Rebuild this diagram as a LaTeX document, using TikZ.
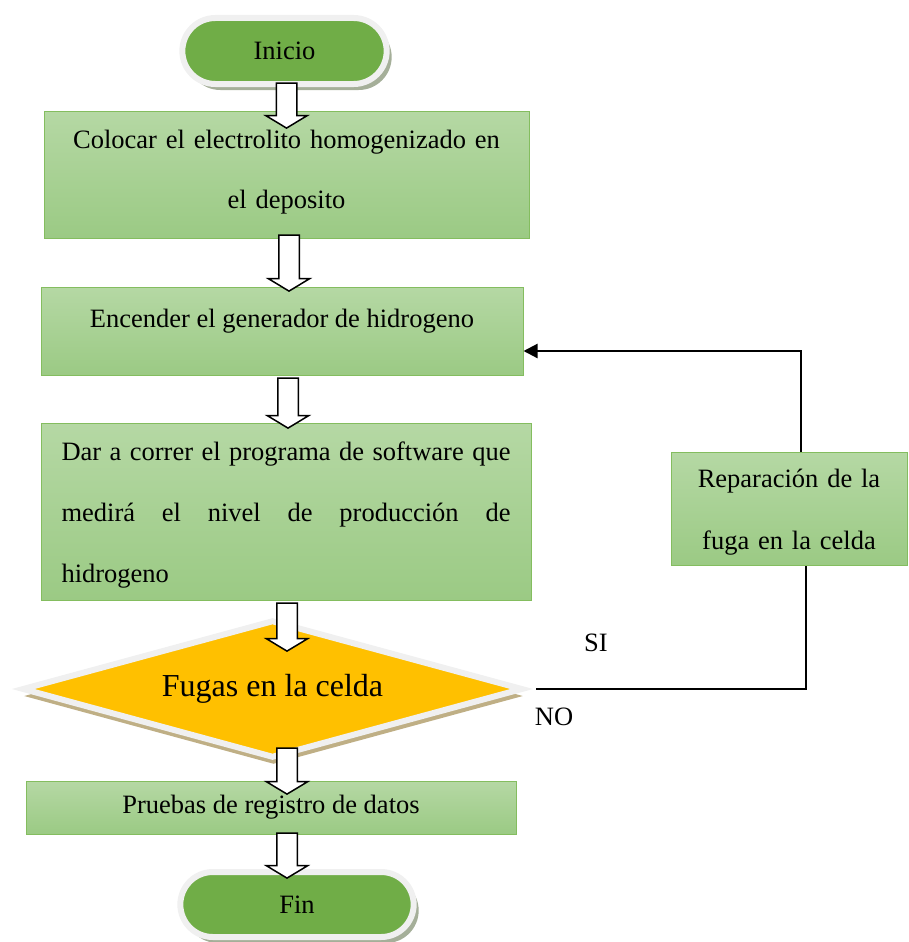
\documentclass[tikz,border=0pt]{standalone}
\usepackage{fontspec}
\setmainfont{Liberation Serif}
\usetikzlibrary{shapes,shadows,arrows.meta}
\definecolor{verdeT}{HTML}{70AD47}
\definecolor{grisB}{HTML}{F0F0F0}
\definecolor{sombraT}{HTML}{A5AF99}
\definecolor{naranja}{HTML}{FFC000}
\definecolor{sombraD}{HTML}{BFAF85}
\definecolor{cajaA}{HTML}{B5D8A4}
\definecolor{cajaB}{HTML}{9BCA84}
\definecolor{bordeC}{HTML}{84BD5F}
\tikzset{
  terminal/.style={rounded rectangle, draw=grisB, line width=6pt, fill=verdeT,
    drop shadow={shadow xshift=5pt, shadow yshift=-6pt, fill=sombraT, opacity=1},
    font=\fontsize{26.5}{32}\selectfont},
  caja/.style={rectangle, draw=bordeC, line width=1pt, top color=cajaA, bottom color=cajaB,
    inner sep=0pt, font=\fontsize{26.5}{60}\selectfont},
  decision/.style={diamond, aspect=3.63, draw=grisB, line width=6pt, fill=naranja, inner sep=0pt,
    drop shadow={shadow xshift=1pt, shadow yshift=-7pt, fill=sombraD, opacity=1},
    font=\fontsize{32}{38}\selectfont},
  flecha/.style={single arrow, draw=black, fill=white, line width=1.5pt, minimum width=40pt,
    single arrow head extend=10.5pt, single arrow tip angle=118, inner xsep=0pt, inner ysep=9.5pt,
    rotate=-90, minimum height=#1},
  linea/.style={draw=black, line width=2.2pt},
  etiqueta/.style={font=\fontsize{26.5}{32}\selectfont, inner sep=0pt}
}
\begin{document}
\begin{tikzpicture}[x=1pt,y=-1pt]
\useasboundingbox (0,0) rectangle (908,942);
\node[terminal, minimum width=211pt, minimum height=66pt] (inicio) at (284.5,51) {Inicio};
\node[caja, minimum width=485pt, minimum height=127pt, text width=485pt, align=center,
  text depth=71pt] (colocar) at (286.5,174.5)
  {Colocar el electrolito homogenizado en\\el deposito};
\node[caja, minimum width=482pt, minimum height=88pt, text depth=26pt] (encender) at (282,331)
  {Encender el generador de hidrogeno};
\node[caja, minimum width=490pt, minimum height=177pt, text width=449pt, align=justify,
  text height=25pt, font=\fontsize{26.5}{61}\selectfont] (correr) at (286,511.5)
  {Dar a correr el programa de software que\linebreak medirá el nivel de producción de\linebreak hidrogeno};
\node[decision, minimum width=501pt, minimum height=138pt] (fugas) at (272.5,689) {Fugas en la celda};
\node[caja, minimum width=490pt, minimum height=53pt] (pruebas) at (271,807.5)
  {Pruebas de registro de datos};
\node[terminal, minimum width=240pt, minimum height=65pt] (fin) at (297,904.5) {Fin};
\node[caja, minimum width=236pt, minimum height=113pt, text width=236pt, align=center,
  text height=26pt, font=\fontsize{26.5}{62}\selectfont] (reparacion) at (789,508.5)
  {Reparación de la\\fuga en la celda};

\node[flecha=45pt] (f1) at (286.5,102.5) {};
\node[flecha=56pt] (f2) at (289,260) {};
\node[flecha=50pt] (f3) at (288,400) {};
\node[flecha=48pt] (f4) at (287,624) {};
\node[flecha=46pt] (f5) at (287,768) {};
\node[flecha=45pt] (f6) at (287,852.5) {};

\coordinate (c1) at (806,689);
\coordinate (c2) at (801,351);
\draw[linea] ([xshift=10pt]fugas.east) -- (c1) -- (c1 |- reparacion.south);
\draw[linea, -{Triangle[length=14pt,width=14pt]}] (c2 |- reparacion.north) -- (c2) -- (c2 -| encender.east);

\node[etiqueta] (si) at (596,643) {SI};
\node[etiqueta] (no) at (554,717) {NO};
\end{tikzpicture}
\end{document}
